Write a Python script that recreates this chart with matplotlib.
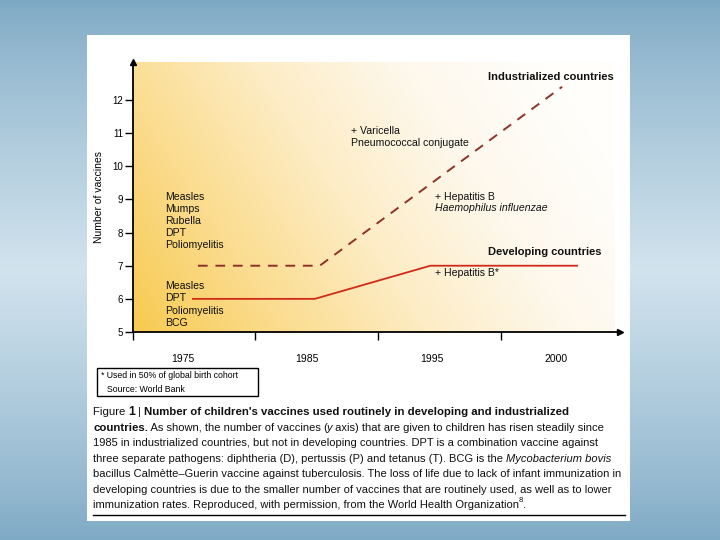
import numpy as np
import matplotlib
matplotlib.use('Agg')
import matplotlib.pyplot as plt
from matplotlib.patches import Rectangle
from matplotlib.colors import LinearSegmentedColormap

plt.rcParams['font.family'] = ['Liberation Sans', 'DejaVu Sans']

# data (x in label units: 0 = 1975, 1 = 1985, 2 = 1995, 3 = 2000)
years = ['1975', '1985', '1995', '2000']
y_ticks = [5, 6, 7, 8, 9, 10, 11, 12]
industrialized_x = [0.12, 1.1, 3.05]
industrialized_y = [7, 7, 12.4]
developing_x = [0.08, 1.06, 1.99, 3.17]
developing_y = [6, 6, 7, 7]

W, H = 720, 540


def fx(px):
    return px / W


def fy(py):
    return 1 - py / H


fig = plt.figure(figsize=(7.2, 5.4), dpi=100)

# slide background
bg = fig.add_axes([0, 0, 1, 1])
bg.axis('off')
t = np.linspace(0, 1, 256)
prof = 1 - np.abs(t - 0.5) * 2
prof = prof ** 0.8
top = np.array([0.49, 0.66, 0.77])
mid = np.array([0.82, 0.89, 0.93])
img = top[None, :] + (mid - top)[None, :] * prof[:, None]
bg.imshow(img[:, None, :], aspect='auto', extent=[0, 1, 0, 1])
bg.set_xlim(0, 1)
bg.set_ylim(0, 1)
bg.add_patch(Rectangle((fx(87), fy(521)), fx(630) - fx(87), fy(35) - fy(521),
                       facecolor='white', edgecolor='none', transform=fig.transFigure))

# plot axes
x_left = -50 / 124.3
x_right = (620 - 183) / 124.3
ax = fig.add_axes([fx(133), fy(332), fx(620) - fx(133), fy(62) - fy(332)])
ax.set_xlim(x_left, x_right)
ax.set_ylim(5, 5 + 270 / 33.14)
ax.patch.set_alpha(0)

# yellow gradient, mostly left to right
gx, gy = np.meshgrid(np.linspace(0, 1, 200), np.linspace(0, 1, 200))
g = np.clip(0.82 * gx + 0.3 * gy, 0, 1)
cmap = LinearSegmentedColormap.from_list('warm', ['#f7ca50', '#fbdc8e', '#fdecc4', '#fef8ec', '#fffefb'])
ax.imshow(g, origin='lower', cmap=cmap, aspect='auto',
          extent=[x_left, (615 - 183) / 124.3, 5, 5 + 270 / 33.14], zorder=0)

for s in ['top', 'right']:
    ax.spines[s].set_visible(False)
for s in ['left', 'bottom']:
    ax.spines[s].set_linewidth(1.3)
ax.plot(1, 0, '>k', markersize=5, transform=ax.transAxes, clip_on=False)
ax.plot(0, 1, '^k', markersize=5, transform=ax.transAxes, clip_on=False)

ax.set_yticks(y_ticks)
ax.set_yticklabels([str(v) for v in y_ticks], fontsize=7)
ax.tick_params(axis='y', length=6, width=1, pad=1)
ax.set_xticks([x_left, 0.58, 1.57, 2.56])
ax.set_xticklabels([])
ax.tick_params(axis='x', which='major', length=6, width=1)
ax.set_xticks(range(len(years)), minor=True)
ax.set_xticklabels(years, minor=True, fontsize=7.5)
ax.tick_params(axis='x', which='minor', length=0, pad=16)
ax.set_ylabel('Number of vaccines', fontsize=7.5, labelpad=6)

ax.plot(industrialized_x, industrialized_y, color='#8e3229', lw=1.4,
        dashes=(5, 4), zorder=3)
ax.plot(developing_x, developing_y, color='#d02a18', lw=1.3, zorder=3)

txt = dict(fontsize=7.6, color='#111111')
ax.text(-0.145, 8.35, 'Measles\nMumps\nRubella\nDPT\nPoliomyelitis',
        va='center', ha='left', linespacing=1.27, **txt)
ax.text(-0.145, 5.83, 'Measles\nDPT\nPoliomyelitis\nBCG',
        va='center', ha='left', linespacing=1.27, **txt)
ax.text(1.35, 10.89, '+ Varicella\nPneumococcal conjugate',
        va='center', ha='left', linespacing=1.22, **txt)
ax.text(2.03, 9.07, '+ Hepatitis B', va='center', ha='left', **txt)
ax.text(2.03, 8.74, 'Haemophilus influenzae', va='center', ha='left',
        style='italic', **txt)
ax.text(2.03, 6.78, '+ Hepatitis B*', va='center', ha='left', **txt)
ax.text(2.45, 12.7, 'Industrialized countries', va='center', ha='left',
        fontsize=8, fontweight='bold', color='#111111')
ax.text(2.45, 7.4, 'Developing countries', va='center', ha='left',
        fontsize=8, fontweight='bold', color='#111111')

# footnote box
fig.patches.append(Rectangle((fx(97), fy(396)), fx(258) - fx(97), fy(368) - fy(396),
                             facecolor='white', edgecolor='black', lw=1,
                             transform=fig.transFigure))
fig.text(fx(101), fy(375), '* Used in 50% of global birth cohort', fontsize=6.3,
         va='center', ha='left')
fig.text(fx(107), fy(389), 'Source: World Bank', fontsize=6.3, va='center', ha='left')

# caption with mixed styles
caption = [
    [('Figure ', 'normal', 'normal', 8.2), ('1', 'bold', 'normal', 8.8), (' | ', 'normal', 'normal', 8.2),
     ("Number of children's vaccines used routinely in developing and industrialized", 'bold', 'normal', 8.2)],
    [('countries.', 'bold', 'normal', 8.2),
     (' As shown, the number of vaccines (', 'normal', 'normal', 8), ('y', 'normal', 'italic', 8),
     (' axis) that are given to children has risen steadily since', 'normal', 'normal', 8)],
    [('1985 in industrialized countries, but not in developing countries. DPT is a combination vaccine against',
      'normal', 'normal', 8)],
    [('three separate pathogens: diphtheria (D), pertussis (P) and tetanus (T). BCG is the ', 'normal', 'normal', 8),
     ('Mycobacterium bovis', 'normal', 'italic', 8)],
    [('bacillus Calmètte\u2013Guerin vaccine against tuberculosis. The loss of life due to lack of infant immunization in',
      'normal', 'normal', 8)],
    [('developing countries is due to the smaller number of vaccines that are routinely used, as well as to lower',
      'normal', 'normal', 8)],
    [('immunization rates. Reproduced, with permission, from the World Health Organization', 'normal', 'normal', 8),
     ('8', 'normal', 'normal', 5.5), ('.', 'normal', 'normal', 8)],
]
line_y = [412, 428, 443, 459, 474, 490, 505]

renderer = fig.canvas.get_renderer()
for pieces, py in zip(caption, line_y):
    x = fx(93)
    for s, weight, style, size in pieces:
        yy = fy(py)
        if size < 6:
            yy = fy(py - 4)
        if style == 'italic' and len(s) == 1:
            x -= 1.5 / W
        t_ = fig.text(x, yy, s, fontsize=size, fontweight=weight, style=style,
                      va='center', ha='left', color='#111111')
        bb = t_.get_window_extent(renderer=renderer)
        x += bb.width / W

fig.add_artist(plt.Line2D([fx(93), fx(625)], [fy(515), fy(515)], color='black',
                          lw=1, transform=fig.transFigure))

fig.savefig('out.png', dpi=100)
